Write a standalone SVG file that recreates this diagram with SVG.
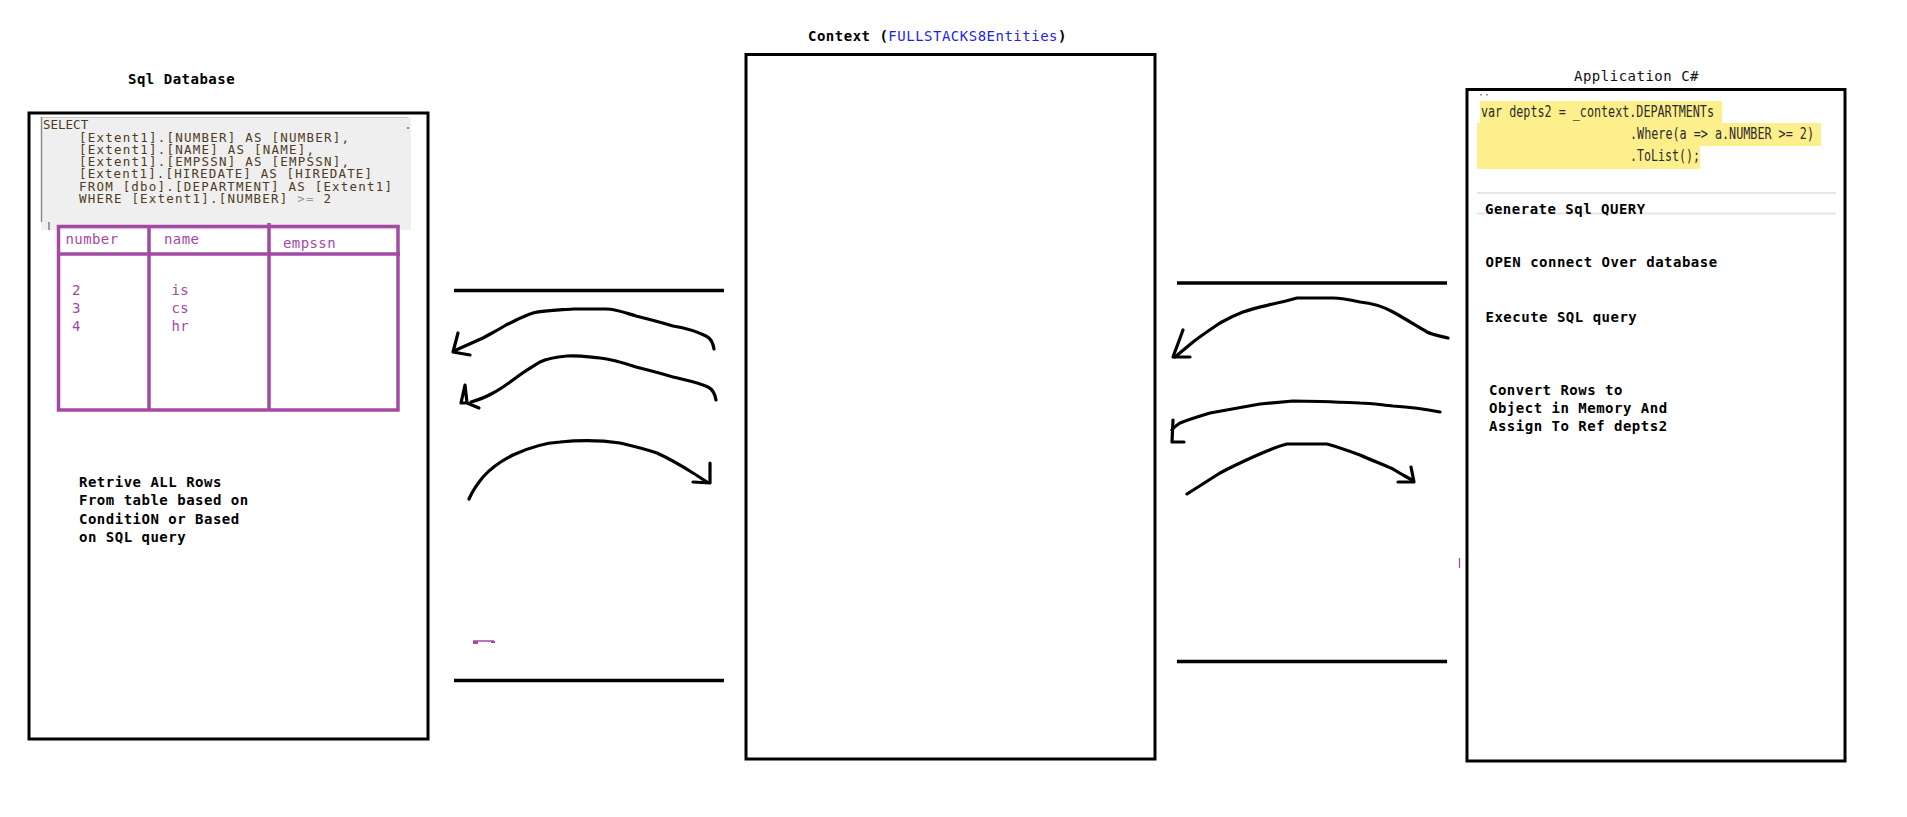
<svg xmlns="http://www.w3.org/2000/svg" width="1907" height="817" viewBox="0 0 1907 817">
<style>
.box{fill:#fff;stroke:#000;stroke-width:3}
.title{font-family:"DejaVu Sans Mono","Liberation Mono",monospace;font-size:14px;font-weight:bold;letter-spacing:0.5px;fill:#000}
.title-r{font-family:"DejaVu Sans Mono","Liberation Mono",monospace;font-size:14px;font-weight:normal;letter-spacing:0.5px;fill:#111}
.note{font-family:"DejaVu Sans Mono","Liberation Mono",monospace;font-size:14px;font-weight:bold;letter-spacing:0.5px;fill:#000}
.sql{font-family:"DejaVu Sans Mono","Liberation Mono",monospace;font-size:12.5px;fill:#4e3b22}
.tbl{fill:none;stroke:#a349a4;stroke-width:3.5}
.tt{font-family:"DejaVu Sans Mono","Liberation Mono",monospace;font-size:14px;letter-spacing:0.4px;fill:#a349a4}
.code{font-family:"DejaVu Sans Mono","Liberation Mono",monospace;font-size:16px;fill:#2b2b2b}
.hl{fill:#fdf08c}
.rule{stroke:#000;stroke-width:3.5;fill:none}
.ink{stroke:#000;stroke-width:3.2;fill:none;stroke-linecap:round;stroke-linejoin:round}
</style>

<g id="sql-database">
  <text class="title" x="128" y="84">Sql Database</text>
  <rect class="box" x="29" y="113" width="399" height="626"/>
  <rect x="41" y="117" width="370" height="113" fill="#efefef"/>
  <line x1="41" y1="117.5" x2="408" y2="117.5" stroke="#c8c8c8" stroke-width="1"/>
  <line x1="41.5" y1="117" x2="41.5" y2="222" stroke="#8a8a8a" stroke-width="1.5"/>
  <rect x="48" y="222" width="2" height="8" fill="#9a9a9a"/>
  <rect x="407" y="127" width="2" height="2" fill="#888"/>
  <text class="sql" x="43" y="129">SELECT</text>
  <text class="sql" x="79" y="141.5" textLength="270" lengthAdjust="spacing">[Extent1].[NUMBER] AS [NUMBER],</text>
  <text class="sql" x="79" y="154" textLength="235" lengthAdjust="spacing">[Extent1].[NAME] AS [NAME],</text>
  <text class="sql" x="79" y="166" textLength="270" lengthAdjust="spacing">[Extent1].[EMPSSN] AS [EMPSSN],</text>
  <text class="sql" x="79" y="178" textLength="293" lengthAdjust="spacing">[Extent1].[HIREDATE] AS [HIREDATE]</text>
  <text class="sql" x="79" y="190.5" textLength="313" lengthAdjust="spacing">FROM [dbo].[DEPARTMENT] AS [Extent1]</text>
  <text class="sql" x="79" y="202.5" textLength="252" lengthAdjust="spacing">WHERE [Extent1].[NUMBER] <tspan fill="#9a9a9a">&gt;=</tspan> 2</text>
  <rect class="tbl" x="58.5" y="226.5" width="339.5" height="183.5"/>
  <line class="tbl" x1="58.5" y1="254" x2="400" y2="254"/>
  <line class="tbl" x1="149" y1="226.5" x2="149" y2="410"/>
  <line class="tbl" x1="269" y1="223" x2="269" y2="410"/>
  <text class="tt" x="65.5" y="244">number</text>
  <text class="tt" x="164" y="244">name</text>
  <text class="tt" x="283" y="248">empssn</text>
  <text class="tt" x="72" y="295">2</text>
  <text class="tt" x="72" y="313">3</text>
  <text class="tt" x="72" y="331">4</text>
  <text class="tt" x="171.5" y="295">is</text>
  <text class="tt" x="171.5" y="313">cs</text>
  <text class="tt" x="171.5" y="331">hr</text>
  <text class="note" x="79" y="487">Retrive ALL Rows</text>
  <text class="note" x="79" y="505">From table based on</text>
  <text class="note" x="79" y="523.5">ConditiON or Based</text>
  <text class="note" x="79" y="542">on SQL query</text>
</g>

<g id="context">
  <text class="title" x="808" y="41">Context (<tspan fill="#1f1fe6" font-weight="normal">FULLSTACKS8Entities</tspan>)</text>
  <rect class="box" x="746" y="54.5" width="409" height="704.5"/>
</g>

<g id="application">
  <text class="title-r" x="1574" y="81">Application C#</text>
  <rect class="box" x="1467" y="89.5" width="378" height="671.5"/>
  <rect x="1480" y="94" width="2" height="1.5" fill="#8a9a7a"/>
  <rect x="1486" y="94" width="2" height="1.5" fill="#8a9a7a"/>
  <rect class="hl" x="1480" y="101" width="242" height="22.5"/>
  <rect class="hl" x="1477" y="123" width="344" height="23"/>
  <rect class="hl" x="1477" y="145.5" width="223" height="23.5"/>
  <text class="code" x="1481" y="117" textLength="233" lengthAdjust="spacingAndGlyphs">var depts2 = _context.DEPARTMENTs</text>
  <text class="code" x="1630" y="139" textLength="184" lengthAdjust="spacingAndGlyphs">.Where(a =&gt; a.NUMBER &gt;= 2)</text>
  <text class="code" x="1630" y="161" textLength="70" lengthAdjust="spacingAndGlyphs">.ToList();</text>
  <line x1="1477" y1="193" x2="1836" y2="193" stroke="#e6e6e6" stroke-width="2"/>
  <line x1="1477" y1="213.5" x2="1836" y2="213.5" stroke="#e6e6e6" stroke-width="2"/>
  <text class="note" x="1485" y="214">Generate Sql QUERY</text>
  <text class="note" x="1485.5" y="267">OPEN connect Over database</text>
  <text class="note" x="1485.5" y="321.5">Execute SQL query</text>
  <text class="note" x="1489" y="395">Convert Rows to</text>
  <text class="note" x="1489" y="413">Object in Memory And</text>
  <text class="note" x="1489" y="431">Assign To Ref depts2</text>
</g>

<g id="connectors">
  <line class="rule" x1="454" y1="290.5" x2="724" y2="290.5"/>
  <line class="rule" x1="454" y1="680.5" x2="724" y2="680.5"/>
  <line class="rule" x1="1177" y1="283" x2="1447" y2="283"/>
  <line class="rule" x1="1177" y1="661.5" x2="1447" y2="661.5"/>

  <path class="ink" d="M714,349 C713,342 710,338 706,336 C696,331 685,328 673,326 C660,322 648,319 636,316 C626,313 616,309 606,309 C595,309 584,309 573,309 C560,310 545,310 533,313 C523,316 515,321 506,325 C498,330 490,334 483,338 C474,342 465,346 456,350"/>
  <path class="ink" d="M458,333 L453,352 L470,355"/>

  <path class="ink" d="M716,400 C715,394 712,389 708,387 C697,382 685,380 673,377 C660,373 648,370 636,367 C624,363 612,359 600,358 C589,357 578,355 567,356 C556,357 548,358 540,362 C532,367 525,371 517,377 C509,383 501,389 493,393 C486,397 478,400 471,402"/>
  <path class="ink" d="M461,403 L465,385 L467,403 Z M467,403 L479,408"/>

  <path class="ink" d="M469,499 C473,490 478,483 483,477 C492,467 503,460 513,455 C528,448 544,443 560,442 C580,440 600,440 620,443 C633,446 645,449 657,453 C670,459 682,466 693,473 C698,476 702,479 707,482"/>
  <path class="ink" d="M710,463 L710,483 L693,482"/>

  <path class="ink" d="M1448,338 C1440,336 1433,335 1427,332 C1415,325 1404,318 1393,312 C1382,306 1371,303 1360,302 C1351,300 1342,298 1333,298 C1321,298 1309,298 1297,298 C1290,300 1283,302 1277,303 C1265,306 1254,308 1243,312 C1235,315 1227,319 1220,323 C1211,329 1202,335 1193,342 C1187,347 1181,352 1175,357"/>
  <path class="ink" d="M1183,330 L1173,357 L1190,357"/>

  <path class="ink" d="M1440,412 C1425,409 1409,407 1393,406 C1382,405 1371,403 1360,403 C1338,402 1316,401 1293,401 C1282,402 1271,403 1260,404 C1243,407 1226,410 1210,413 C1200,416 1190,419 1180,423 C1177,425 1174,427 1172,430"/>
  <path class="ink" d="M1173,420 L1172,442 L1184,442"/>

  <path class="ink" d="M1187,494 C1198,487 1209,480 1220,473 C1231,467 1242,462 1253,457 C1264,452 1275,447 1287,444 C1300,444 1313,444 1327,444 C1338,447 1349,451 1360,455 C1371,460 1382,464 1393,469 C1399,473 1405,476 1412,480"/>
  <path class="ink" d="M1411,467 L1414,482 L1398,482"/>

  <path d="M473,641 L494,641" stroke="#a349a4" stroke-width="1.5" fill="none"/>
  <rect x="473" y="641" width="5" height="3" fill="#a349a4"/>
  <rect x="491" y="641" width="4" height="2" fill="#a349a4"/>
  <line x1="1459.5" y1="558" x2="1459.5" y2="568" stroke="#a349a4" stroke-width="1.2"/>
</g>
</svg>
